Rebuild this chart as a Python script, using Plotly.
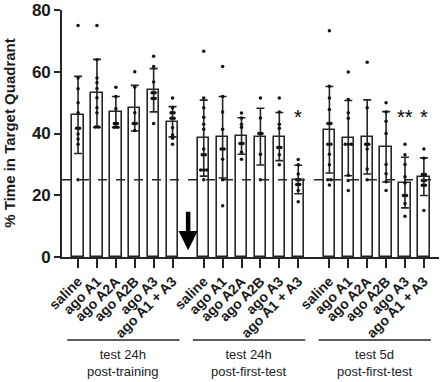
import plotly.graph_objects as go
from collections import Counter

# ---------------- data ----------------
treatments = ["saline", "ago A1", "ago A2A", "ago A2B", "ago A3", "ago A1 + A3"]
groups = ["test 24h<br>post-training", "test 24h<br>post-first-test", "test 5d<br>post-first-test"]

means = [46.0, 53.0, 47.0, 48.2, 54.0, 43.8,
         38.5, 38.8, 39.2, 39.0, 39.0, 25.1,
         41.2, 38.5, 38.9, 35.7, 24.1, 26.0]
sds = [12.5, 11.0, 5.0, 7.4, 7.0, 4.9,
       12.3, 13.2, 5.9, 9.2, 7.8, 4.6,
       14.0, 12.2, 12.0, 11.4, 8.2, 6.1]
points = [
    [75, 58, 54.5, 50, 46.7, 41.7, 41.7, 39.8, 38.2, 36.5, 25],
    [75, 63.9, 58, 56.4, 54.6, 51.6, 48.3, 46.7, 42.1, 42.1],
    [55, 52, 48, 43.2, 43.2, 42, 42],
    [60, 55, 46.7, 43.2, 43.2, 41],
    [65, 61.7, 56.7, 53.2, 53.2, 51.3, 51.3, 43.2],
    [51.5, 48.3, 46.7, 46.7, 44.9, 44.9, 41.9, 39.5, 38.5, 36.5],
    [66.6, 51.5, 48.3, 45.3, 43, 41.4, 35, 33.1, 33.1, 28.2, 28.2, 28.2, 25],
    [61.7, 52, 47, 41.4, 35, 35, 31.7, 25, 16.6],
    [46.6, 45, 43, 42, 36.8, 36.8, 33.9, 31.7],
    [51.5, 45, 40, 40, 33.3, 25],
    [51.5, 47, 43, 41.7, 35.5, 35.5, 33.1, 29.9],
    [31.6, 29.9, 26.9, 25, 25, 23.5, 23.5, 21.5, 17.9],
    [73.3, 55.3, 51.5, 47.8, 43.2, 43.2, 36.5, 36.5, 33.3, 29.9, 25, 25, 23.3],
    [59.9, 51, 46.7, 44.9, 36.5, 36.5, 36.5, 26.5, 24.8, 21.5],
    [63.1, 48.3, 36.5, 36.5, 35, 28.5, 25],
    [50, 47, 44, 40, 30, 27, 24.4, 21.5],
    [36.5, 33.1, 30, 26, 24, 19.9, 19.9, 17.3, 13.2],
    [35, 32, 26.7, 26.7, 24.8, 24.8, 23.2, 23.2, 15.1],
]
significance = ["", "", "", "", "", "",
                "", "", "", "", "", "*",
                "", "", "", "", "**", "*"]
chance_level = 25
y_ticks = [0, 20, 40, 60, 80]

# ---------------- layout helpers ----------------
GAP = 0.65
n_t = len(treatments)
xpos = [g * (n_t + GAP) + i for g in range(len(groups)) for i in range(n_t)]

DARK = "#262626"
FONT = "Arial, Liberation Sans, sans-serif"

# dots, duplicates spread side by side
dx, dy = [], []
for xp, vals in zip(xpos, points):
    cnt = Counter(vals)
    seen = Counter()
    for v in vals:
        n = cnt[v]
        k = seen[v]
        seen[v] += 1
        off = (k - (n - 1) / 2) * 0.16
        dx.append(xp + off)
        dy.append(v)

fig = go.Figure()
fig.add_trace(go.Bar(
    x=xpos, y=means, width=0.6,
    marker=dict(color="white", line=dict(color=DARK, width=1.6)),
    error_y=dict(type="data", array=sds, visible=True, color=DARK, thickness=1.6, width=4),
    showlegend=False,
))
fig.add_trace(go.Scatter(
    x=dx, y=dy, mode="markers",
    marker=dict(color="#111111", size=3.5),
    showlegend=False, cliponaxis=False,
))

fig.add_shape(type="line", xref="paper", x0=0, x1=1, yref="y", y0=chance_level, y1=chance_level,
              line=dict(color=DARK, width=1.5, dash="dash"))

# significance marks
for xp, s in zip(xpos, significance):
    if s:
        fig.add_annotation(x=xp, y=45.5, text=s, showarrow=False,
                           font=dict(size=20, color="#000000", family=FONT), yanchor="middle")

# arrow between first and second group
fig.add_annotation(x=(xpos[n_t - 1] + xpos[n_t]) / 2, y=2.2, ax=0, ay=-40,
                   text="", showarrow=True, arrowhead=2, arrowsize=0.85,
                   arrowwidth=4.5, arrowcolor="#000000")

# group labels with lines
for g, name in enumerate(groups):
    c = (xpos[g * n_t] + xpos[g * n_t + n_t - 1]) / 2 - 0.1
    fig.add_shape(type="line", xref="x", yref="paper", x0=c - 2.97, x1=c + 2.97,
                  y0=-0.336, y1=-0.336, line=dict(color=DARK, width=1.4))
    fig.add_annotation(x=c, y=-0.43, xref="x", yref="paper", text=name, showarrow=False,
                       font=dict(size=13, color="#222222", family=FONT), yanchor="middle",
                       align="center")

# y-axis title
fig.add_annotation(x=-0.14, y=0.5, xref="paper", yref="paper", text="<b>% Time in Target Quadrant</b>",
                   textangle=-90, showarrow=False, font=dict(size=15, color="#1a1a1a", family=FONT),
                   xanchor="center", yanchor="middle")

fig.update_layout(
    width=440, height=382,
    margin=dict(l=62, r=1, t=8, b=125),
    paper_bgcolor="white", plot_bgcolor="white",
    font=dict(family=FONT, color="#1a1a1a"),
    xaxis=dict(range=[-0.85, 19.1], tickvals=xpos,
               ticktext=["<b>" + t + "</b>" for t in treatments * len(groups)],
               tickangle=-45, tickfont=dict(size=14, family=FONT, color="#1a1a1a"),
               ticks="outside", ticklen=9, tickwidth=1.5, tickcolor=DARK,
               showline=True, linecolor=DARK, linewidth=1.6, showgrid=False, zeroline=False),
    yaxis=dict(range=[0, 80], tickvals=y_ticks, ticktext=["<b>%d</b>" % v for v in y_ticks],
               tickfont=dict(size=17, family=FONT, color="#1a1a1a"), ticklabeloverflow="allow",
               ticks="outside", ticklen=6, tickwidth=1.5, tickcolor=DARK,
               showline=True, linecolor=DARK, linewidth=1.6, showgrid=False, zeroline=False),
    bargap=0,
)

fig.write_html("out.html")
